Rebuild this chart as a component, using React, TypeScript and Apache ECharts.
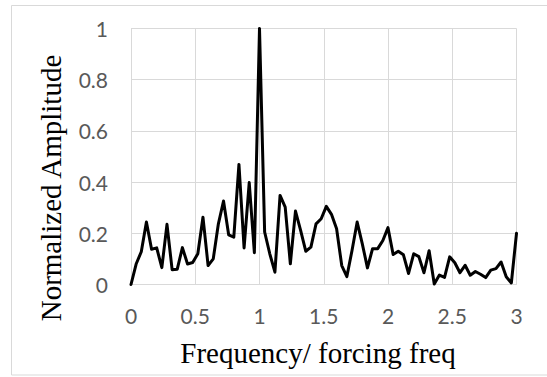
import React, { useEffect, useRef } from "react";
import * as echarts from "echarts";

const xTitle = "Frequency/ forcing freq";
const yTitle = "Normalized Amplitude";

const frequencies = [
  0.0, 0.04, 0.08, 0.12, 0.16, 0.2, 0.24, 0.28, 0.32, 0.36, 0.4, 0.44, 0.48, 0.52, 0.56, 0.6,
  0.64, 0.68, 0.72, 0.76, 0.8, 0.84, 0.88, 0.92, 0.96, 1.0, 1.04, 1.08, 1.12, 1.16, 1.2, 1.24,
  1.28, 1.32, 1.36, 1.4, 1.44, 1.48, 1.52, 1.56, 1.6, 1.64, 1.68, 1.72, 1.76, 1.8, 1.84, 1.88,
  1.92, 1.96, 2.0, 2.04, 2.08, 2.12, 2.16, 2.2, 2.24, 2.28, 2.32, 2.36, 2.4, 2.44, 2.48, 2.52,
  2.56, 2.6, 2.64, 2.68, 2.72, 2.76, 2.8, 2.84, 2.88, 2.92, 2.96, 3.0,
];

const amplitudes = [
  0.0, 0.08, 0.128, 0.244, 0.138, 0.143, 0.066, 0.235, 0.058, 0.06, 0.144, 0.08, 0.086, 0.12, 0.263, 0.074,
  0.1, 0.237, 0.326, 0.194, 0.185, 0.469, 0.143, 0.398, 0.124, 1.0, 0.205, 0.12, 0.048, 0.348, 0.302, 0.081,
  0.287, 0.211, 0.13, 0.146, 0.237, 0.257, 0.305, 0.274, 0.218, 0.074, 0.031, 0.133, 0.244, 0.159, 0.065, 0.14,
  0.14, 0.172, 0.222, 0.117, 0.13, 0.116, 0.043, 0.12, 0.109, 0.046, 0.132, 0.002, 0.037, 0.028, 0.108, 0.085,
  0.046, 0.075, 0.036, 0.051, 0.04, 0.027, 0.056, 0.062, 0.088, 0.03, 0.006, 0.2,
];

export default function App() {
  const ref = useRef<HTMLDivElement>(null);
  useEffect(() => {
    if (!ref.current) return;
    const chart = echarts.init(ref.current, null, { renderer: "svg" });
    const data = frequencies.map((f, i) => [f, amplitudes[i]]);
    const tickFont = { fontFamily: "Lato", fontSize: 21, color: "#595959" };
    chart.setOption({
      animation: false,
      backgroundColor: "#ffffff",
      grid: { left: 131, top: 28.5, width: 385.5, height: 256, containLabel: false },
      xAxis: {
        type: "value",
        min: 0,
        max: 3,
        interval: 0.5,
        axisLine: { show: true, lineStyle: { color: "#d9d9d9", width: 1 } },
        axisTick: { show: false },
        splitLine: { show: true, lineStyle: { color: "#d9d9d9", width: 1 } },
        axisLabel: { ...tickFont, margin: 20 },
      },
      yAxis: {
        type: "value",
        min: 0,
        max: 1,
        interval: 0.2,
        axisLine: { show: true, lineStyle: { color: "#d9d9d9", width: 1 } },
        axisTick: { show: false },
        splitLine: { show: true, lineStyle: { color: "#d9d9d9", width: 1 } },
        axisLabel: { ...tickFont, margin: 23 },
      },
      graphic: [
        {
          type: "rect",
          shape: { x: 11.5, y: 5.5, width: 600, height: 369.5 },
          style: { fill: "none", stroke: "#d9d9d9", lineWidth: 1 },
          silent: true,
        },
        {
          type: "text",
          x: 318,
          y: 353,
          style: {
            text: xTitle,
            fontFamily: "Liberation Serif",
            fontSize: 29,
            fill: "#000000",
            textAlign: "center",
            textVerticalAlign: "middle",
          },
        },
        {
          type: "text",
          x: 51,
          y: 188,
          rotation: Math.PI / 2,
          style: {
            text: yTitle,
            fontFamily: "Liberation Serif",
            fontSize: 29,
            fill: "#000000",
            textAlign: "center",
            textVerticalAlign: "middle",
          },
        },
      ],
      series: [
        {
          type: "line",
          data,
          symbol: "none",
          lineStyle: { color: "#000000", width: 3, join: "round", cap: "round" },
          clip: false,
        },
      ],
    });
    return () => chart.dispose();
  }, []);
  return (
    <div
      ref={ref}
      style={{ position: "absolute", left: 0, top: 0, width: 547, height: 377, background: "#fff" }}
    />
  );
}
